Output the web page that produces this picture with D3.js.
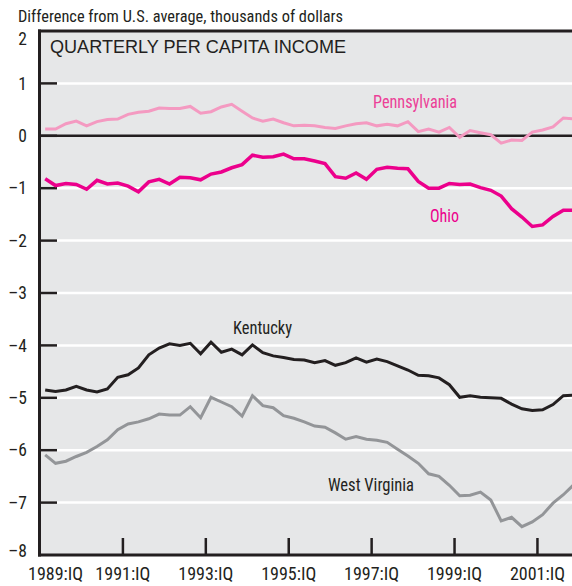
<!DOCTYPE html>
<html>
<head>
<meta charset="utf-8">
<script src="https://cdn.jsdelivr.net/npm/d3@7.9.0/dist/d3.min.js"></script>
<style>
  body { margin: 0; background: #fff; }
  svg { display: block; }
  .narrow { font-family: "Liberation Sans Narrow", "Arial Narrow", "Roboto Condensed", sans-serif; }
</style>
</head>
<body>
<svg width="572" height="586"></svg>
<script>
// quarters 1989:IQ .. 2001:IVQ
const startYear = 1989;
const quarterCount = 52;

const yTicks = [2, 1, 0, -1, -2, -3, -4, -5, -6, -7, -8];
const xTickYears = [1989, 1991, 1993, 1995, 1997, 1999, 2001];
const xTickLabels = ["1989:IQ", "1991:IQ", "1993:IQ", "1995:IQ", "1997:IQ", "1999:IQ", "2001:IQ"];

const pennsylvania = [0.13,0.13,0.23,0.28,0.19,0.27,0.31,0.32,0.41,0.45,
  0.47,0.53,0.52,0.52,0.56,0.43,0.46,0.55,0.60,0.47,
  0.34,0.28,0.32,0.25,0.19,0.20,0.19,0.16,0.14,0.19,
  0.23,0.25,0.19,0.22,0.19,0.27,0.08,0.13,0.07,0.16,
  -0.03,0.10,0.06,0.02,-0.14,-0.08,-0.09,0.07,0.11,0.17,
  0.34,0.32];

const ohio = [-0.82,-0.95,-0.91,-0.93,-1.02,-0.85,-0.92,-0.90,-0.96,-1.07,
  -0.88,-0.83,-0.92,-0.79,-0.80,-0.84,-0.73,-0.69,-0.61,-0.55,
  -0.37,-0.41,-0.40,-0.35,-0.44,-0.44,-0.48,-0.53,-0.78,-0.81,
  -0.71,-0.83,-0.64,-0.60,-0.62,-0.63,-0.87,-1.00,-1.00,-0.91,
  -0.93,-0.92,-0.99,-1.04,-1.15,-1.39,-1.55,-1.73,-1.70,-1.54,
  -1.42,-1.42];

const kentucky = [-4.85,-4.88,-4.85,-4.78,-4.85,-4.89,-4.83,-4.61,-4.56,-4.43,
  -4.18,-4.05,-3.97,-4.00,-3.96,-4.16,-3.94,-4.13,-4.07,-4.18,
  -3.99,-4.14,-4.20,-4.23,-4.27,-4.28,-4.33,-4.29,-4.38,-4.33,
  -4.24,-4.32,-4.26,-4.31,-4.39,-4.47,-4.57,-4.58,-4.62,-4.75,
  -4.99,-4.96,-4.99,-5.00,-5.01,-5.12,-5.21,-5.24,-5.23,-5.13,
  -4.96,-4.95];

const westVirginia = [-6.09,-6.25,-6.21,-6.12,-6.04,-5.93,-5.80,-5.61,-5.50,-5.46,
  -5.40,-5.31,-5.33,-5.33,-5.17,-5.38,-4.99,-5.08,-5.17,-5.35,
  -4.96,-5.15,-5.19,-5.34,-5.39,-5.46,-5.54,-5.56,-5.67,-5.79,
  -5.74,-5.79,-5.81,-5.85,-5.98,-6.11,-6.25,-6.45,-6.50,-6.67,
  -6.87,-6.86,-6.80,-6.95,-7.35,-7.28,-7.46,-7.37,-7.23,-7.01,
  -6.85,-6.66];

const series = [
  { name: "Pennsylvania", values: pennsylvania, color: "#f49ac1", width: 3, label: [373, 108], labelWidth: 84, labelColor: "#ec3f97" },
  { name: "Ohio", values: ohio, color: "#ec008c", width: 3.5, label: [430, 222], labelWidth: 29, labelColor: "#ec008c" },
  { name: "Kentucky", values: kentucky, color: "#231f20", width: 3, label: [233, 334], labelWidth: 59, labelColor: "#231f20" },
  { name: "West Virginia", values: westVirginia, color: "#939598", width: 3, label: [328, 491], labelWidth: 86, labelColor: "#231f20" }
];

const svg = d3.select("svg");
const plotLeft = 39.5, plotTop = 31, plotBottom = 555, plotRight = 580;

const x = d3.scaleLinear().domain([1989, 2002]).range([40, 578.9]);
const y = d3.scaleLinear().domain([-8, 2]).range([plotBottom, plotTop]);

// time of each quarter (middle of the quarter)
const quarterTime = d3.range(quarterCount).map(i => startYear + Math.floor(i / 4) + ((i % 4) + 0.5) / 4);

// plot background
svg.append("rect")
  .attr("x", plotLeft).attr("y", plotTop)
  .attr("width", plotRight - plotLeft).attr("height", plotBottom - plotTop)
  .attr("fill", "#e6e7e8");

// white grid lines
svg.append("g").selectAll("line")
  .data(yTicks.filter(d => d !== 0 && d !== 2 && d !== -8))
  .join("line")
  .attr("x1", plotLeft).attr("x2", plotRight)
  .attr("y1", d => y(d)).attr("y2", d => y(d))
  .attr("stroke", "#fff").attr("stroke-width", 2.5);

// zero line
svg.append("line")
  .attr("x1", plotLeft).attr("x2", plotRight)
  .attr("y1", y(0)).attr("y2", y(0))
  .attr("stroke", "#231f20").attr("stroke-width", 2.5);

// y tick marks
svg.append("g").selectAll("line")
  .data(yTicks.filter(d => d !== 2 && d !== -8))
  .join("line")
  .attr("x1", plotLeft).attr("x2", 57)
  .attr("y1", d => y(d)).attr("y2", d => y(d))
  .attr("stroke", "#231f20").attr("stroke-width", 2.5);

// x tick marks
svg.append("g").selectAll("line")
  .data(xTickYears.slice(1))
  .join("line")
  .attr("x1", d => x(d)).attr("x2", d => x(d))
  .attr("y1", plotBottom - 17).attr("y2", plotBottom)
  .attr("stroke", "#231f20").attr("stroke-width", 2.5);

// series lines
const line = d3.line()
  .x((d, i) => x(quarterTime[i]))
  .y(d => y(d));

svg.append("g").selectAll("path")
  .data(series)
  .join("path")
  .attr("d", d => line(d.values))
  .attr("fill", "none")
  .attr("stroke", d => d.color)
  .attr("stroke-width", d => d.width)
  .attr("stroke-linejoin", "miter");

// frame: top, left, bottom
svg.append("line").attr("x1", plotLeft - 1.5).attr("x2", plotRight).attr("y1", plotTop).attr("y2", plotTop)
  .attr("stroke", "#231f20").attr("stroke-width", 3);
svg.append("line").attr("x1", plotLeft).attr("x2", plotLeft).attr("y1", plotTop - 1.5).attr("y2", plotBottom + 1.5)
  .attr("stroke", "#231f20").attr("stroke-width", 3);
svg.append("line").attr("x1", plotLeft - 1.5).attr("x2", plotRight).attr("y1", plotBottom).attr("y2", plotBottom)
  .attr("stroke", "#231f20").attr("stroke-width", 3);

// y tick labels (end labels nudged inward)
svg.append("g").selectAll("text")
  .data(yTicks)
  .join("text")
  .attr("class", "narrow")
  .attr("x", 27)
  .attr("y", d => y(d) + (d === 2 ? 8 : d === -8 ? -4.5 : 0))
  .attr("dy", "0.35em")
  .attr("text-anchor", "end")
  .attr("font-size", 17.5)
  .attr("fill", "#231f20")
  .text(d => d < 0 ? "\u2013" + Math.abs(d) : d);

// x tick labels
svg.append("g").selectAll("text")
  .data(xTickYears)
  .join("text")
  .attr("class", "narrow")
  .attr("x", (d, i) => i === 0 ? 28 : x(d))
  .attr("y", 580)
  .attr("text-anchor", (d, i) => i === 0 ? "start" : "middle")
  .attr("font-size", 18)
  .attr("fill", "#231f20")
  .text((d, i) => xTickLabels[i]);

// series labels
svg.append("g").selectAll("text")
  .data(series)
  .join("text")
  .attr("class", "narrow")
  .attr("x", d => d.label[0])
  .attr("y", d => d.label[1])
  .attr("font-size", 18.5)
  .attr("textLength", d => d.labelWidth)
  .attr("lengthAdjust", "spacingAndGlyphs")
  .attr("fill", d => d.labelColor)
  .text(d => d.name);

// axis title and panel title
svg.append("text")
  .attr("class", "narrow")
  .attr("x", 18).attr("y", 22)
  .attr("font-size", 17)
  .attr("textLength", 325)
  .attr("lengthAdjust", "spacingAndGlyphs")
  .attr("fill", "#231f20")
  .text("Difference from U.S. average, thousands of dollars");

svg.append("text")
  .attr("x", 50).attr("y", 53.3)
  .attr("font-family", "Liberation Sans, Arial, sans-serif")
  .attr("font-size", 18.5)
  .attr("textLength", 296)
  .attr("lengthAdjust", "spacingAndGlyphs")
  .attr("fill", "#231f20")
  .text("QUARTERLY PER CAPITA INCOME");
</script>
</body>
</html>
